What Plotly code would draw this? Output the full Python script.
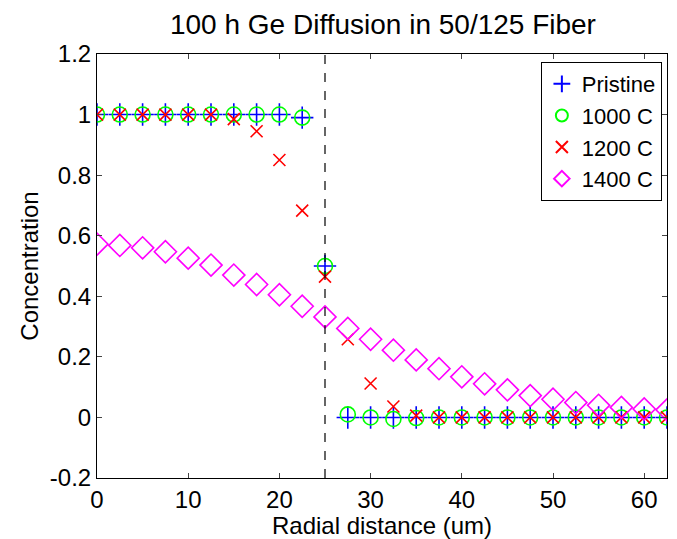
import plotly.graph_objects as go

radial_um = [0, 2.5, 5, 7.5, 10, 12.5, 15, 17.5, 20, 22.5, 25, 27.5, 30, 32.5, 35,
             37.5, 40, 42.5, 45, 47.5, 50, 52.5, 55, 57.5, 60, 62.5]

pristine = [1, 1, 1, 1, 1, 1, 1, 1, 1, 0.99, 0.5, 0.0, 0.0, 0.0, 0.0,
            0, 0, 0, 0, 0, 0, 0, 0, 0, 0, 0]
c1000 = [1, 1, 1, 1, 1, 1, 1, 1, 1, 0.99, 0.5, 0.01, 0.0, -0.005, -0.002,
         0, 0, 0, 0, 0, 0, 0, 0, 0, 0, 0]
c1200 = [1, 1, 1, 1, 1, 1, 0.985, 0.945, 0.85, 0.683, 0.465, 0.258, 0.112, 0.036, 0.006,
         0, 0, 0, 0, 0, 0, 0, 0, 0, 0, 0]
c1400 = [0.572, 0.568, 0.56, 0.547, 0.526, 0.503, 0.47, 0.439, 0.405, 0.367, 0.332,
         0.294, 0.258, 0.222, 0.19, 0.161, 0.134, 0.111, 0.091, 0.072, 0.06, 0.049,
         0.04, 0.033, 0.028, 0.025]

core_radius = 25
series_names = ["Pristine", "1000 C", "1200 C", "1400 C"]
x_ticks = [0, 10, 20, 30, 40, 50, 60]
y_ticks = [-0.2, 0, 0.2, 0.4, 0.6, 0.8, 1, 1.2]
y_tick_text = ["-0.2", "0", "0.2", "0.4", "0.6", "0.8", "1", "1.2"]

FONT = "Liberation Sans, Arial, sans-serif"

fig = go.Figure()
fig.add_trace(go.Scatter(x=radial_um, y=pristine, mode="markers", name=series_names[0],
                         marker=dict(symbol="cross-thin-open", size=16, color="#0000ff",
                                     line=dict(color="#0000ff", width=1.6))))
fig.add_trace(go.Scatter(x=radial_um, y=c1000, mode="markers", name=series_names[1],
                         marker=dict(symbol="circle-open", size=15, color="#00ff00",
                                     line=dict(color="#00ff00", width=1.6))))
fig.add_trace(go.Scatter(x=radial_um, y=c1200, mode="markers", name=series_names[2],
                         marker=dict(symbol="x-thin-open", size=12, color="#ff0000",
                                     line=dict(color="#ff0000", width=1.6))))
fig.add_trace(go.Scatter(x=radial_um, y=c1400, mode="markers", name=series_names[3],
                         marker=dict(symbol="diamond-open", size=17, color="#ff00ff",
                                     line=dict(color="#ff00ff", width=1.6))))

fig.add_shape(type="line", x0=core_radius, x1=core_radius, y0=y_ticks[0], y1=y_ticks[-1],
              xref="x", yref="y", line=dict(color="black", width=1.2, dash="dash"))

fig.update_layout(
    width=669, height=531,
    paper_bgcolor="white", plot_bgcolor="white",
    margin=dict(l=89, r=9, t=46, b=59),
    font=dict(family=FONT, size=24, color="black"),
    title=dict(text="100 h Ge Diffusion in 50/125 Fiber", x=0.5605, xanchor="center",
               y=0.970, yanchor="middle", font=dict(family=FONT, size=28, color="black")),
    showlegend=True,
    legend=dict(x=0.991, y=0.981, xanchor="right", yanchor="top",
                bgcolor="white", bordercolor="black", borderwidth=1,
                font=dict(family=FONT, size=22, color="black"),
                itemsizing="constant", tracegroupgap=0),
    xaxis=dict(range=[0, 62.5], tickvals=x_ticks, ticks="inside", ticklen=5,
               showline=True, linecolor="black", linewidth=1, mirror="ticks",
               showgrid=False, zeroline=False,
               title=dict(text="Radial distance (um)", standoff=0,
                          font=dict(family=FONT, size=24))),
    yaxis=dict(range=[-0.2, 1.2], tickvals=y_ticks, ticktext=y_tick_text, ticks="inside",
               ticklen=5, showline=True, linecolor="black", linewidth=1, mirror="ticks",
               showgrid=False, zeroline=False,
               title=dict(text="Concentration", standoff=4,
                          font=dict(family=FONT, size=24))),
)

fig.write_html("out.html")
